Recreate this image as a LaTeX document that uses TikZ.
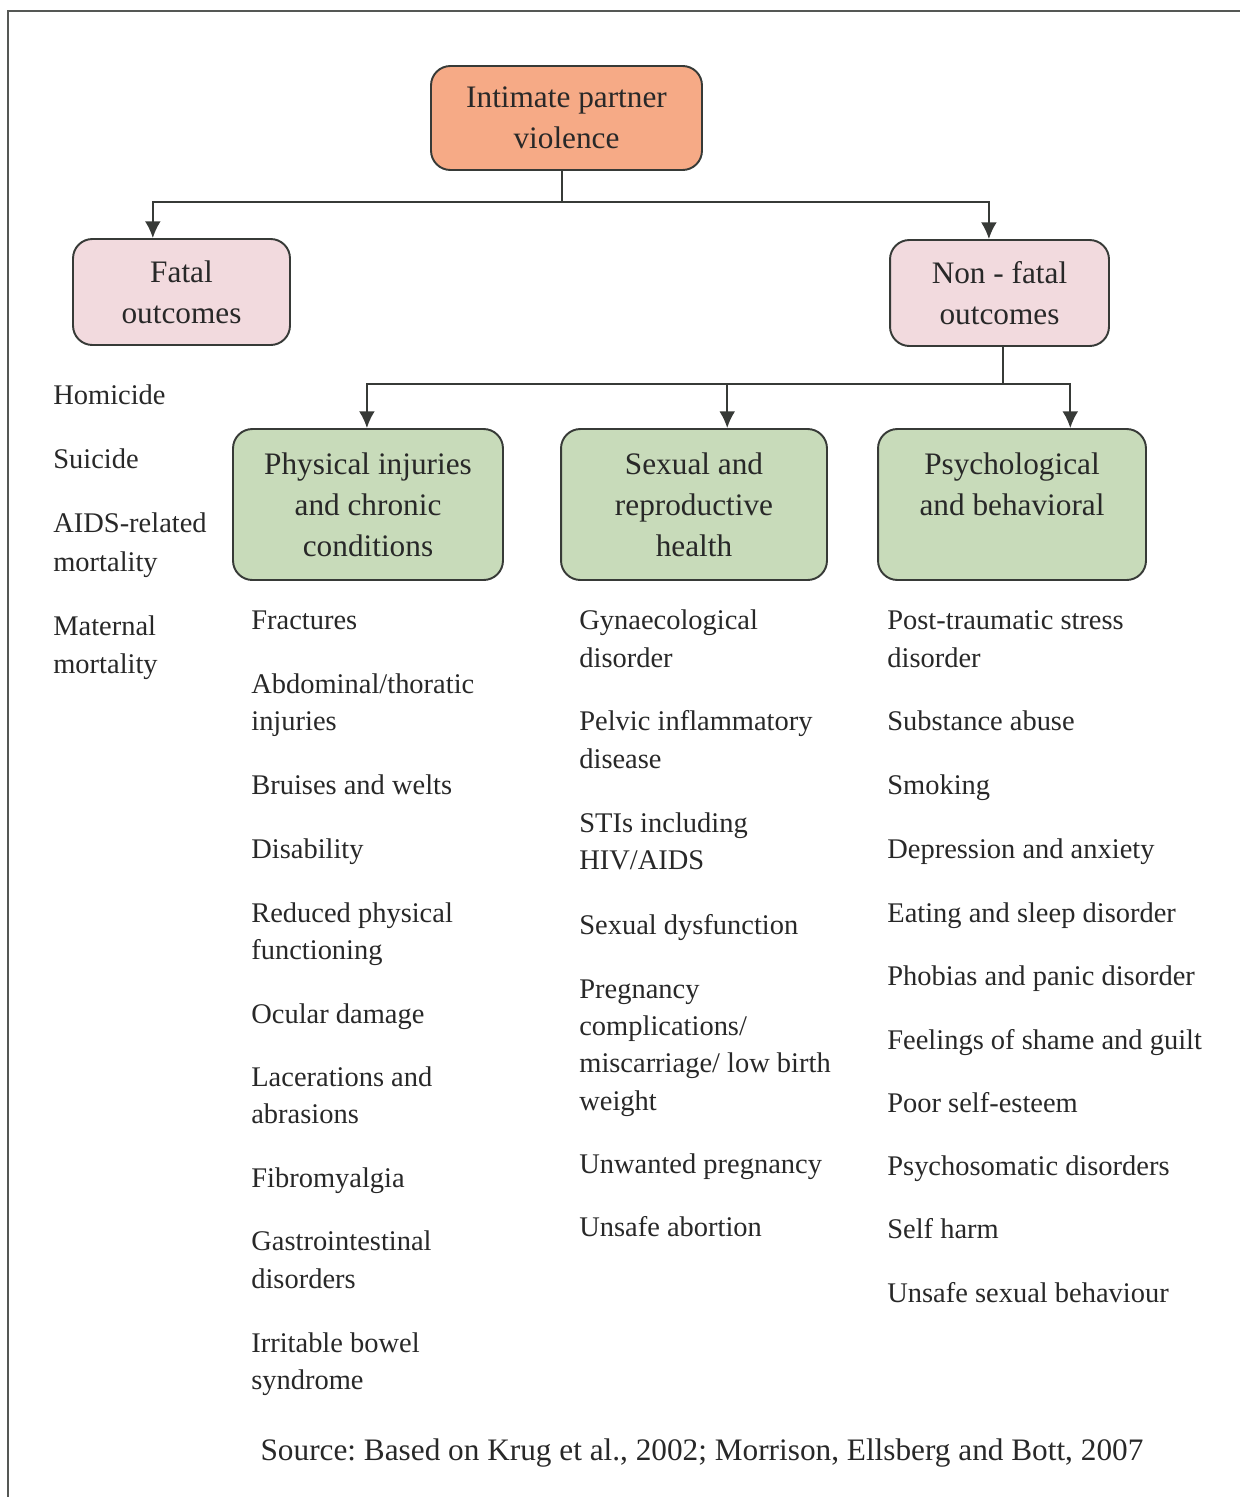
\documentclass[tikz,border=0pt]{standalone}
\usepackage{fontspec}
\setmainfont{Liberation Serif}
\usetikzlibrary{arrows.meta,calc}
\definecolor{ink}{RGB}{40,40,40}
\definecolor{edge}{RGB}{55,58,55}
\definecolor{ipvfill}{RGB}{246,170,134}
\definecolor{outfill}{RGB}{242,218,222}
\definecolor{catfill}{RGB}{200,219,186}
\frenchspacing
\begin{document}
\begin{tikzpicture}[x=0.02cm,y=-0.02cm,
  box/.style={draw=edge,line width=1.1pt,rounded corners=11pt,align=center,
    text=ink,inner sep=0pt,font=\fontsize{17.8}{23.3}\selectfont},
  conn/.style={draw=edge,line width=1.1pt},
  arr/.style={conn,-{Latex[length=9.5pt,width=9pt]}},
  item/.style={anchor=base west,inner sep=0pt,text=ink,font=\fontsize{16.2}{21.3}\selectfont}]
\useasboundingbox (0,0) rectangle (1240,1497);

% page frame (top and left rules)
\draw[draw=edge!85,line width=1.5pt] (8,1497) -- (8,11) -- (1240,11);

% boxes
\node[box,fill=ipvfill,minimum width=5.42cm,minimum height=2.08cm] (ipv) at (566.5,118) {Intimate partner\\violence};
\node[box,fill=outfill,minimum width=4.34cm,minimum height=2.12cm] (fatal) at (181.5,292) {Fatal\\outcomes};
\node[box,fill=outfill,minimum width=4.38cm,minimum height=2.12cm] (nonfatal) at (999.5,293) {Non - fatal\\outcomes};
\node[box,fill=catfill,minimum width=5.40cm,minimum height=3.02cm] (phys) at (368,504.5) {Physical injuries\\and chronic\\conditions};
\node[box,fill=catfill,minimum width=5.32cm,minimum height=3.02cm] (sex) at (694,504.5) {Sexual and\\reproductive\\health};
\node[box,fill=catfill,minimum width=5.36cm,minimum height=3.02cm] (psy) at (1012,504.5) {Psychological\\and behavioral\\\mbox{}};

% connectors
\coordinate (j1) at (562,202);
\coordinate (j2) at (1003,384);
\draw[conn] (ipv.south -| j1) -- (j1);
\draw[arr] (j1) -| ($(fatal.north west)!0.369!(fatal.north east)$);
\draw[arr] (j1) -| ($(nonfatal.north west)!0.452!(nonfatal.north east)$);
\draw[conn] (nonfatal.south -| j2) -- (j2);
\draw[arr] (j2) -| ($(phys.north west)!0.496!(phys.north east)$);
\draw[arr] (j2) -| ($(sex.north west)!0.624!(sex.north east)$);
\draw[arr] (j2) -| ($(psy.north west)!0.716!(psy.north east)$);

% fatal outcomes
\foreach \y/\t [count=\i] in {395/Homicide,459/Suicide,523/AIDS-related,562/mortality,626/Maternal,664/mortality}
  \node[item] (fa\i) at (53,\y+9) {\t};

% physical injuries and chronic conditions
\foreach \y/\t [count=\i] in {620/Fractures,684/{Abdominal/thoratic},721/injuries,785/Bruises and welts,
  849/Disability,913/Reduced physical,950/functioning,1014/Ocular damage,1077/Lacerations and,
  1114/abrasions,1178/Fibromyalgia,1241/Gastrointestinal,1279/disorders,1343/Irritable bowel,1380/syndrome}
  \node[item] (ph\i) at (251,\y+9) {\t};

% sexual and reproductive health
\foreach \y/\t [count=\i] in {620/Gynaecological,658/disorder,721/Pelvic inflammatory,759/disease,
  823/STIs including,860/{HIV/AIDS},925/Sexual dysfunction,989/Pregnancy,1026/{complications/},
  1063/{miscarriage/ low birth},1101/weight,1164/Unwanted pregnancy,1227/Unsafe abortion}
  \node[item] (sx\i) at (579,\y+9) {\t};

% psychological and behavioral
\foreach \y/\t [count=\i] in {620/Post-traumatic stress,658/disorder,721/Substance abuse,785/Smoking,
  849/Depression and anxiety,913/Eating and sleep disorder,976/Phobias and panic disorder,
  1040/Feelings of shame and guilt,1103/Poor self-esteem,1166/Psychosomatic disorders,
  1229/Self harm,1293/Unsafe sexual behaviour}
  \node[item] (ps\i) at (887,\y+9) {\t};

% source line
\node[anchor=base,inner sep=0pt,text=ink,font=\fontsize{17.8}{23.3}\selectfont] (src) at (702,1460)
  {Source: Based on Krug et al., 2002; Morrison, Ellsberg and Bott, 2007};
\end{tikzpicture}
\end{document}
